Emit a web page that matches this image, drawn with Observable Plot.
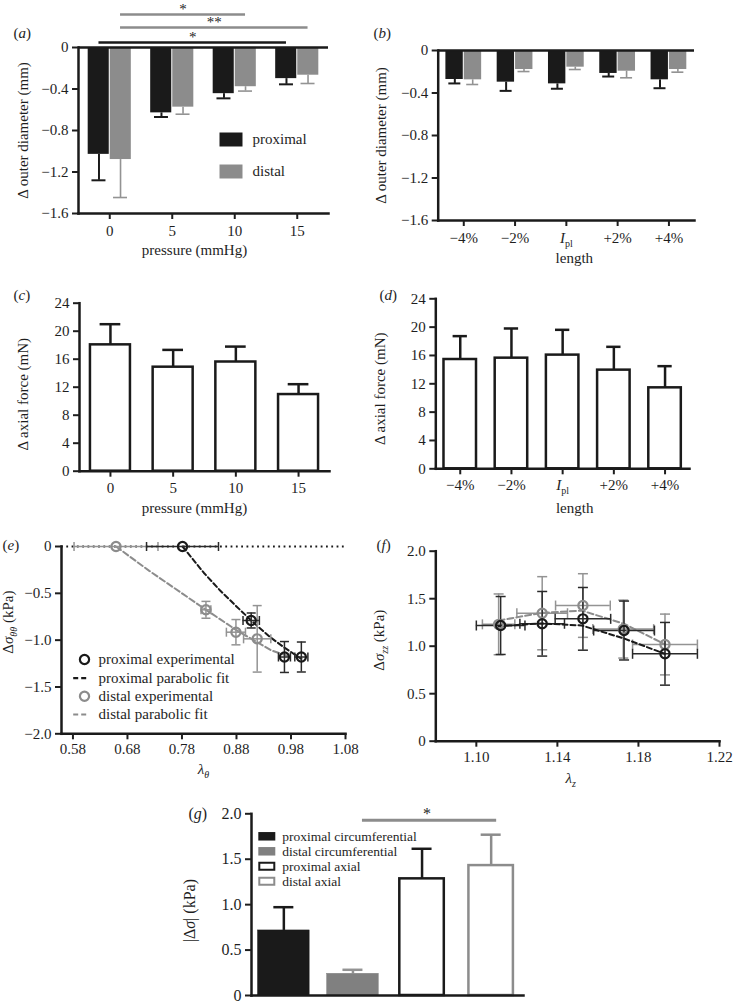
<!DOCTYPE html>
<html><head><meta charset="utf-8">
<script src="https://cdn.jsdelivr.net/npm/d3@7"></script>
<script src="https://cdn.jsdelivr.net/npm/@observablehq/plot@0.6"></script>
<style>
html,body{margin:0;padding:0;background:#fff;}
#fig{position:relative;width:733px;height:1004px;overflow:hidden;background:#fff;}
</style></head><body><div id="fig"></div>
<script>
// ---------------- data ----------------
const pressures = ["0", "5", "10", "15"];
const lengths = ["−4%", "−2%", "Ipl", "+2%", "+4%"];
const seriesNames = ["proximal", "distal"];

// (a) change in outer diameter vs pressure (mm)
const diamProx = [-1.03, -0.63, -0.445, -0.30];
const diamProxErr = [0.25, 0.04, 0.045, 0.055];
const diamDist = [-1.08, -0.575, -0.378, -0.267];
const diamDistErr = [0.366, 0.068, 0.042, 0.08];
const diamTicks = [0, -0.4, -0.8, -1.2, -1.6];
const sigA = [
  {from: "0", to: "10", series: "distal", level: 0.318, label: "*"},
  {from: "0", to: "15", series: "distal", level: 0.193, label: "**"},
  {from: "0", to: "15", series: "proximal", level: 0.048, label: "*"}
];

// (b) change in outer diameter vs length (mm)
const lenProx = [-0.273, -0.298, -0.314, -0.216, -0.276];
const lenProxErr = [0.037, 0.082, 0.046, 0.029, 0.079];
const lenDist = [-0.276, -0.179, -0.157, -0.195, -0.179];
const lenDistErr = [0.044, 0.019, 0.022, 0.062, 0.025];

// (c) axial force vs pressure (mN)
const forceP = [18.05, 14.86, 15.6, 10.95];
const forcePErr = [2.95, 2.47, 2.2, 1.48];
// (d) axial force vs length (mN)
const forceL = [15.43, 15.62, 16.05, 13.93, 11.43];
const forceLErr = [3.3, 4.19, 3.57, 3.29, 3.06];
const forceTicks = [0, 4, 8, 12, 16, 20, 24];

// (e) circumferential stress change vs circumferential stretch
const thProxX = [0.781, 0.907, 0.968, 0.999];
const thProxY = [0, -0.79, -1.18, -1.18];
const thProxXErr = [0.066, 0.015, 0.011, 0.012];
const thProxYErr = [0, 0.08, 0.165, 0.16];
const thDistX = [0.659, 0.824, 0.879, 0.918];
const thDistY = [0, -0.676, -0.915, -0.986];
const thDistXErr = [0.077, 0.009, 0.0175, 0.025];
const thDistYErr = [0, 0.09, 0.135, 0.355];
const thProxFitX = [0.781, 0.82, 0.85, 0.88, 0.907, 0.94, 0.968, 0.999];
const thProxFitY = [0, -0.28, -0.47, -0.64, -0.79, -0.96, -1.08, -1.20];
const thDistFitX = [0.659, 0.72, 0.78, 0.824, 0.879, 0.944, 0.975];
const thDistFitY = [0, -0.26, -0.50, -0.676, -0.89, -1.11, -1.17];
const thXTicks = [0.58, 0.68, 0.78, 0.88, 0.98, 1.08];
const thYTicks = [0, -0.5, -1.0, -1.5, -2.0];
const legendE = ["proximal experimental", "proximal parabolic fit", "distal experimental", "distal parabolic fit"];

// (f) axial stress change vs axial stretch
const zProxX = [1.112, 1.1325, 1.1526, 1.1729, 1.1931];
const zProxY = [1.218, 1.236, 1.288, 1.165, 0.92];
const zProxXErr = [0.012, 0.011, 0.0137, 0.015, 0.016];
const zProxYErr = [0.305, 0.34, 0.33, 0.31, 0.33];
const zDistX = [1.111, 1.1325, 1.1526, 1.1725, 1.1931];
const zDistY = [1.23, 1.347, 1.428, 1.18, 1.018];
const zDistXErr = [0.008, 0.0125, 0.0135, 0.015, 0.016];
const zDistYErr = [0.32, 0.385, 0.335, 0.305, 0.32];
const zProxFitX = [1.111, 1.132, 1.152, 1.173, 1.193];
const zProxFitY = [1.21, 1.24, 1.218, 1.08, 0.92];
const zDistFitX = [1.111, 1.132, 1.152, 1.173, 1.193];
const zDistFitY = [1.27, 1.35, 1.375, 1.235, 1.02];
const zXTicks = [1.10, 1.14, 1.18, 1.22];
const zYTicks = [0, 0.5, 1.0, 1.5, 2.0];

// (g) magnitude of stress change
const stressCats = ["proximal circumferential", "distal circumferential", "proximal axial", "distal axial"];
const stressMean = [0.716, 0.239, 1.284, 1.43];
const stressErr = [0.256, 0.044, 0.331, 0.34];
const stressTicks = [0, 0.5, 1.0, 1.5, 2.0];
const sigG = [{from: "distal circumferential", to: "distal axial", mid: "proximal axial", level: 1.93, label: "*"}];

// ---------------- helpers ----------------
const BLACK = "#1a1a1a", GRAY = "#8c8c8c", EGRAY = "#939393", TXT = "#1e1e1e";
const FONT = '"Liberation Serif", "Times New Roman", serif';
const fmt1 = d => d === 0 ? "0" : d3.format(".1f")(d);
const fmt2 = d => d3.format(".2f")(d);
const band = (W, n, pi, po) => { const step = W / (n - pi + 2 * po); return {step, bw: step * (1 - pi)}; };
const hline = w => ({draw(c) { c.moveTo(-w / 2, 0); c.lineTo(w / 2, 0); }});
const vline = h => ({draw(c) { c.moveTo(0, -h / 2); c.lineTo(0, h / 2); }});
const rectSym = (w, h) => ({draw(c) { c.rect(-w / 2, -h / 2, w, h); }});
const circSym = r => ({draw(c) { c.moveTo(r, 0); c.arc(0, 0, r, 0, 2 * Math.PI); }});

const RICH = {
  "Ipl": '<tspan font-style="italic">I</tspan><tspan font-size="10" dy="4">pl</tspan>',
  "Δσθθ (kPa)": 'Δ<tspan font-style="italic">σ</tspan><tspan font-style="italic" font-size="10" dy="4">θθ</tspan><tspan dy="-4"> (kPa)</tspan>',
  "Δσzz (kPa)": 'Δ<tspan font-style="italic">σ</tspan><tspan font-style="italic" font-size="10" dy="4">zz</tspan><tspan dy="-4"> (kPa)</tspan>',
  "λθ": '<tspan font-style="italic">λ</tspan><tspan font-style="italic" font-size="10" dy="4">θ</tspan>',
  "λz": '<tspan font-style="italic">λ</tspan><tspan font-style="italic" font-size="10" dy="4">z</tspan>',
  "|Δσ| (kPa)": '|Δ<tspan font-style="italic">σ</tspan>| (kPa)'
};
"abcdefg".split("").forEach(l => RICH["(" + l + ")"] = '(<tspan font-style="italic">' + l + '</tspan>)');

function place(svg, left, top) {
  svg.style.position = "absolute";
  svg.style.left = left + "px";
  svg.style.top = top + "px";
  svg.querySelectorAll("text").forEach(t => {
    if (t.children.length === 0 && RICH[t.textContent] !== undefined) t.innerHTML = RICH[t.textContent];
  });
  document.getElementById("fig").appendChild(svg);
}
function base(W, H, ml, mr, mt, mb) {
  return {width: W, height: H, marginLeft: ml, marginRight: mr, marginTop: mt, marginBottom: mb,
    style: {fontFamily: FONT, fontSize: "15px", color: TXT, background: "transparent", overflow: "visible"}};
}
function frameLines() {
  return [Plot.frame({anchor: "left", strokeWidth: 2.5, stroke: BLACK}), Plot.frame({anchor: "bottom", strokeWidth: 2.5, stroke: BLACK})];
}
function labelMarks(o) {
  // o: {panel, pdx, pdy, ylab, ydx, ydy, xlab, xdx, xdy, fs}
  const fs = o.fs || 15;
  const m = [Plot.text([o.panel], {frameAnchor: "top-left", text: d => d, dx: o.pdx, dy: o.pdy, textAnchor: "start", lineAnchor: "middle", fontSize: fs})];
  if (o.ylab) m.push(Plot.text([o.ylab], {frameAnchor: "left", text: d => d, dx: o.ydx, dy: o.ydy || 0, rotate: -90, textAnchor: "middle", lineAnchor: "middle", fontSize: fs}));
  if (o.xlab) m.push(Plot.text([o.xlab], {frameAnchor: "bottom", text: d => d, dx: o.xdx || 0, dy: o.xdy, textAnchor: "middle", lineAnchor: "middle", fontSize: fs}));
  return m;
}

// grouped negative bar chart (a, b)
function groupedDiam(cfg) {
  const {cats, prox, proxErr, dist, distErr, W, H, ml, mr, mt, mb, pi, po, cap} = cfg;
  const {step, bw} = band(W - ml - mr, cats.length, pi, po);
  const P = cats.map((c, i) => ({c, v: prox[i], end: prox[i] - proxErr[i]}));
  const D = cats.map((c, i) => ({c, v: dist[i], end: dist[i] - distErr[i]}));
  const gap = 1;
  const marks = [
    Plot.ruleX(P, {x: "c", y1: "v", y2: "end", dx: -bw / 4, stroke: BLACK, strokeWidth: 2}),
    Plot.tickY(P, {x: "c", y: "end", insetLeft: bw / 4 - cap / 2, insetRight: 3 * bw / 4 - cap / 2, stroke: BLACK, strokeWidth: 2}),
    Plot.ruleX(D, {x: "c", y1: "v", y2: "end", dx: bw / 4, stroke: EGRAY, strokeWidth: 1.6}),
    Plot.tickY(D, {x: "c", y: "end", insetLeft: 3 * bw / 4 - cap / 2, insetRight: bw / 4 - cap / 2, stroke: EGRAY, strokeWidth: 1.6}),
    Plot.barY(P, {x: "c", y: "v", fill: BLACK, insetRight: bw / 2 + gap / 2}),
    Plot.barY(D, {x: "c", y: "v", fill: GRAY, insetLeft: bw / 2 + gap / 2}),
    Plot.ruleY([0], {stroke: BLACK, strokeWidth: 2.5}),
    ...frameLines(),
    Plot.axisY({ticks: diamTicks, tickFormat: fmt1, tickSize: 6, tickPadding: 4, strokeWidth: 2, label: null, fontSize: 15}),
    Plot.axisX({tickSize: 6, tickPadding: 6, strokeWidth: 2, label: null, fontSize: 15})
  ];
  return {step, bw, marks};
}

// ---------------- (a) ----------------
(function () {
  const W = 366, H = 280, ml = 78, mr = 38, mt = 47, mb = 67, pi = 0.31, po = 0.155;
  const g = groupedDiam({cats: pressures, prox: diamProx, proxErr: diamProxErr, dist: diamDist, distErr: diamDistErr, W, H, ml, mr, mt, mb, pi, po, cap: 14});
  const {step, bw} = g;
  const sig = sigA.flatMap(s => {
    const isD = s.series === "distal";
    const i0 = pressures.indexOf(s.from), i1 = pressures.indexOf(s.to);
    return [
      Plot.ruleY([s], {y: "level", x1: "from", x2: "to", insetLeft: isD ? 0.75 * bw : 0.25 * bw, insetRight: isD ? 0.25 * bw : 0.75 * bw, stroke: isD ? GRAY : BLACK, strokeWidth: 2.5}),
      Plot.text([s], {x: "from", y: "level", text: "label", dx: (i1 - i0) * step / 2 + (isD ? bw / 4 : -bw / 4), dy: -5, fontSize: 15})
    ];
  });
  const legend = seriesNames.flatMap((name, i) => [
    Plot.dot([name], {frameAnchor: "top-left", dx: 152.5, dy: 92 + 32 * i, symbol: rectSym(23, 14), fill: i ? GRAY : BLACK, stroke: "none"}),
    Plot.text([name], {frameAnchor: "top-left", dx: 174, dy: 92 + 32 * i, text: d => d, textAnchor: "start", lineAnchor: "middle", fontSize: 15})
  ]);
  const svg = Plot.plot({
    ...base(W, H, ml, mr, mt, mb),
    x: {type: "band", domain: pressures, paddingInner: pi, paddingOuter: po, round: false},
    y: {domain: [-1.6, 0]},
    marks: [...g.marks, ...sig, ...legend,
      ...labelMarks({panel: "(a)", pdx: -65, pdy: -14, ylab: "Δ outer diameter (mm)", ydx: -55.3, xlab: "pressure (mmHg)", xdx: -9, xdy: 37})]
  });
  place(svg, 0, 0);
})();

// ---------------- (b) ----------------
(function () {
  const W = 367, H = 280, ml = 71.7, mr = 39, mt = 50, mb = 60, pi = 0.303, po = 0.15;
  const g = groupedDiam({cats: lengths, prox: lenProx, proxErr: lenProxErr, dist: lenDist, distErr: lenDistErr, W, H, ml, mr, mt, mb, pi, po, cap: 12});
  const svg = Plot.plot({
    ...base(W, H, ml, mr, mt, mb),
    x: {type: "band", domain: lengths, paddingInner: pi, paddingOuter: po, round: false},
    y: {domain: [-1.6, 0]},
    marks: [...g.marks,
      ...labelMarks({panel: "(b)", pdx: -64.7, pdy: -17, ylab: "Δ outer diameter (mm)", ydx: -56.7, xlab: "length", xdx: 8, xdy: 38})]
  });
  place(svg, 366, 0);
})();

// single open bar chart (c, d)
function forceChart(cfg) {
  const {cats, vals, errs, W, H, ml, mr, mt, mb, pi, po, cap} = cfg;
  const {bw} = band(W - ml - mr, cats.length, pi, po);
  const R = cats.map((c, i) => ({c, v: vals[i], end: vals[i] + errs[i]}));
  return Plot.plot({
    ...base(W, H, ml, mr, mt, mb),
    x: {type: "band", domain: cats, paddingInner: pi, paddingOuter: po, round: false},
    y: {domain: [0, 24]},
    marks: [
      Plot.ruleX(R, {x: "c", y1: "v", y2: "end", stroke: BLACK, strokeWidth: 2.5}),
      Plot.tickY(R, {x: "c", y: "end", insetLeft: (bw - cap) / 2, insetRight: (bw - cap) / 2, stroke: BLACK, strokeWidth: 2.5}),
      Plot.barY(R, {x: "c", y: "v", fill: "white", stroke: BLACK, strokeWidth: 2.5}),
      ...frameLines(),
      Plot.axisY({ticks: forceTicks, tickFormat: d => String(d), tickSize: 6, tickPadding: 4, strokeWidth: 2, label: null, fontSize: 15}),
      Plot.axisX({tickSize: 6, tickPadding: 5, strokeWidth: 2, label: null, fontSize: 15}),
      ...labelMarks(cfg.labels)
    ]
  });
}

// ---------------- (c) ----------------
place(forceChart({cats: pressures, vals: forceP, errs: forcePErr, W: 366, H: 250, ml: 79, mr: 37, mt: 22.7, mb: 59.3, pi: 0.362, po: 0.1745, cap: 20.7,
  labels: {panel: "(c)", pdx: -66, pdy: -7.7, ylab: "Δ axial force (mN)", ydx: -56, ydy: 7, xlab: "pressure (mmHg)", xdx: -10, xdy: 37.3}}), 0, 280);

// ---------------- (d) ----------------
place(forceChart({cats: lengths, vals: forceL, errs: forceLErr, W: 367, H: 250, ml: 69.3, mr: 44, mt: 18.3, mb: 61.7, pi: 0.365, po: 0.16, cap: 14.3,
  labels: {panel: "(d)", pdx: -56.3, pdy: -3.3, ylab: "Δ axial force (mN)", ydx: -56, ydy: 5, xlab: "length", xdx: 12, xdy: 39.7}}), 366, 280);

// scatter with 2D error bars (e, f)
function errMarks(X, Y, XE, YE, color, capLen) {
  const R = X.map((x, i) => ({x, y: Y[i], ex: XE[i], ey: YE[i]}));
  const RY = R.filter(d => d.ey > 0);
  const sw = 1.5;
  return [
    Plot.ruleY(R, {y: "y", x1: d => d.x - d.ex, x2: d => d.x + d.ex, stroke: color, strokeWidth: sw}),
    Plot.dot(R, {x: d => d.x - d.ex, y: "y", symbol: vline(capLen), fill: "none", stroke: color, strokeWidth: sw}),
    Plot.dot(R, {x: d => d.x + d.ex, y: "y", symbol: vline(capLen), fill: "none", stroke: color, strokeWidth: sw}),
    Plot.ruleX(RY, {x: "x", y1: d => d.y - d.ey, y2: d => d.y + d.ey, stroke: color, strokeWidth: sw}),
    Plot.dot(RY, {x: "x", y: d => d.y - d.ey, symbol: hline(capLen), fill: "none", stroke: color, strokeWidth: sw}),
    Plot.dot(RY, {x: "x", y: d => d.y + d.ey, symbol: hline(capLen), fill: "none", stroke: color, strokeWidth: sw})
  ];
}
function circles(X, Y, color) {
  return Plot.dot(X.map((x, i) => ({x, y: Y[i]})), {x: "x", y: "y", symbol: circSym(4.6), fill: "none", stroke: color, strokeWidth: 2.2});
}
function fitLine(X, Y, color, dash) {
  return Plot.line(X.map((x, i) => ({x, y: Y[i]})), {x: "x", y: "y", stroke: color, strokeWidth: 2, strokeDasharray: dash});
}

// ---------------- (e) ----------------
(function () {
  const W = 366, H = 260, ml = 61, mr = 21, mt = 16, mb = 56.7;
  const legendStyles = [
    {sym: circSym(4.6), stroke: BLACK, dash: null, dx: 23},
    {sym: hline(15.6), stroke: BLACK, dash: "5,3", dx: 19.5},
    {sym: circSym(4.6), stroke: GRAY, dash: null, dx: 23},
    {sym: hline(15.6), stroke: GRAY, dash: "5,3", dx: 19.5}
  ];
  const rowY = [113, 131.7, 149.7, 168];
  const legend = legendE.flatMap((name, i) => [
    Plot.dot([name], {frameAnchor: "top-left", dx: legendStyles[i].dx, dy: rowY[i], symbol: legendStyles[i].sym, fill: "none", stroke: legendStyles[i].stroke, strokeWidth: 2.2, strokeDasharray: legendStyles[i].dash}),
    Plot.text([name], {frameAnchor: "top-left", dx: 37, dy: rowY[i], text: d => d, textAnchor: "start", lineAnchor: "middle", fontSize: 15})
  ]);
  const svg = Plot.plot({
    ...base(W, H, ml, mr, mt, mb),
    x: {domain: [0.559, 1.08]},
    y: {domain: [-2, 0]},
    marks: [
      Plot.ruleY([0], {stroke: BLACK, strokeWidth: 2, strokeDasharray: "1.8,3.5"}),
      fitLine(thDistFitX, thDistFitY, GRAY, "6,3"),
      fitLine(thProxFitX, thProxFitY, BLACK, "5,3"),
      ...errMarks(thDistX, thDistY, thDistXErr, thDistYErr, EGRAY, 9),
      ...errMarks(thProxX, thProxY, thProxXErr, thProxYErr, "#2a2a2a", 9),
      circles(thDistX, thDistY, GRAY),
      circles(thProxX, thProxY, BLACK),
      ...frameLines(),
      Plot.axisY({ticks: thYTicks, tickFormat: fmt1, tickSize: 6, tickPadding: 4, strokeWidth: 2, label: null, fontSize: 15}),
      Plot.axisX({ticks: thXTicks, tickFormat: fmt2, tickSize: 6, tickPadding: 4, strokeWidth: 2, label: null, fontSize: 15}),
      ...legend,
      ...labelMarks({panel: "(e)", pdx: -59, pdy: -1, ylab: "Δσθθ (kPa)", ydx: -53, ydy: -18, xlab: "λθ", xdx: 0, xdy: 35})
    ]
  });
  place(svg, 0, 530);
})();

// ---------------- (f) ----------------
(function () {
  const W = 367, H = 260, ml = 69.3, mr = 14, mt = 20.7, mb = 49.3;
  const svg = Plot.plot({
    ...base(W, H, ml, mr, mt, mb),
    x: {domain: [1.08, 1.22]},
    y: {domain: [0, 2]},
    marks: [
      ...errMarks(zDistX, zDistY, zDistXErr, zDistYErr, EGRAY, 10),
      fitLine(zDistFitX, zDistFitY, GRAY, "6,3"),
      ...errMarks(zProxX, zProxY, zProxXErr, zProxYErr, "#2a2a2a", 10),
      fitLine(zProxFitX, zProxFitY, BLACK, "5,3"),
      circles(zDistX, zDistY, GRAY),
      circles(zProxX, zProxY, BLACK),
      ...frameLines(),
      Plot.axisY({ticks: zYTicks, tickFormat: fmt1, tickSize: 6, tickPadding: 4, strokeWidth: 2, label: null, fontSize: 15}),
      Plot.axisX({ticks: zXTicks, tickFormat: fmt2, tickSize: 6, tickPadding: 4, strokeWidth: 2, label: null, fontSize: 15}),
      ...labelMarks({panel: "(f)", pdx: -59.3, pdy: -5.7, ylab: "Δσzz (kPa)", ydx: -56.3, ydy: -6, xlab: "λz", xdx: -7, xdy: 37.3})
    ]
  });
  place(svg, 366, 530);
})();

// ---------------- (g) ----------------
(function () {
  const W = 400, H = 214, ml = 81, mr = 47, mt = 23.3, mb = 9, pi = 0.32, po = 0.128;
  const {step, bw} = band(W - ml - mr, stressCats.length, pi, po);
  const look = {
    "proximal circumferential": {fill: BLACK, stroke: BLACK, err: BLACK, filled: true},
    "distal circumferential": {fill: "#808080", stroke: "#808080", err: EGRAY, filled: true},
    "proximal axial": {fill: "white", stroke: BLACK, err: BLACK, filled: false},
    "distal axial": {fill: "white", stroke: GRAY, err: GRAY, filled: false}
  };
  const R = stressCats.map((c, i) => ({c, v: stressMean[i], end: stressMean[i] + stressErr[i]}));
  const cap = 20;
  const bars = R.flatMap(d => {
    const L = look[d.c];
    const ins = L.filled ? -2.3 : 1.25;
    return [
      Plot.ruleX([d], {x: "c", y1: "v", y2: "end", stroke: L.err, strokeWidth: 2.5}),
      Plot.tickY([d], {x: "c", y: "end", insetLeft: (bw - cap) / 2, insetRight: (bw - cap) / 2, stroke: L.err, strokeWidth: 2.5}),
      Plot.barY([d], {x: "c", y: "v", fill: L.fill, stroke: L.stroke, strokeWidth: L.filled ? 0.5 : 2.5, insetLeft: ins, insetRight: ins})
    ];
  });
  const sig = sigG.flatMap(s => [
    Plot.ruleY([s], {y: "level", x1: "from", x2: "to", insetLeft: 33, insetRight: 18, stroke: GRAY, strokeWidth: 3}),
    Plot.text([s], {x: "mid", y: "level", text: "label", dx: 5, dy: -6, fontSize: 16})
  ]);
  const legend = stressCats.flatMap((name, i) => {
    const L = look[name];
    return [
      Plot.dot([name], {frameAnchor: "top-left", dx: 15.3, dy: 22.5 + 15 * i, symbol: L.filled ? rectSym(17, 8.5) : rectSym(15, 7), fill: L.fill, stroke: L.filled ? "none" : L.stroke, strokeWidth: 2}),
      Plot.text([name], {frameAnchor: "top-left", dx: 30.7, dy: 22.5 + 15 * i, text: d => d, textAnchor: "start", lineAnchor: "middle", fontSize: 13.5})
    ];
  });
  const svg = Plot.plot({
    ...base(W, H, ml, mr, mt, mb),
    x: {type: "band", domain: stressCats, paddingInner: pi, paddingOuter: po, round: false, axis: null},
    y: {domain: [0, 2]},
    marks: [...bars, ...frameLines(),
      Plot.axisY({ticks: stressTicks, tickFormat: fmt1, tickSize: 6, tickPadding: 4, strokeWidth: 2, label: null, fontSize: 16}),
      ...sig, ...legend,
      ...labelMarks({panel: "(g)", pdx: -63, pdy: 0, ylab: "|Δσ| (kPa)", ydx: -62, ydy: 6, fs: 16})]
  });
  place(svg, 170, 790);
})();
</script>
</body></html>
